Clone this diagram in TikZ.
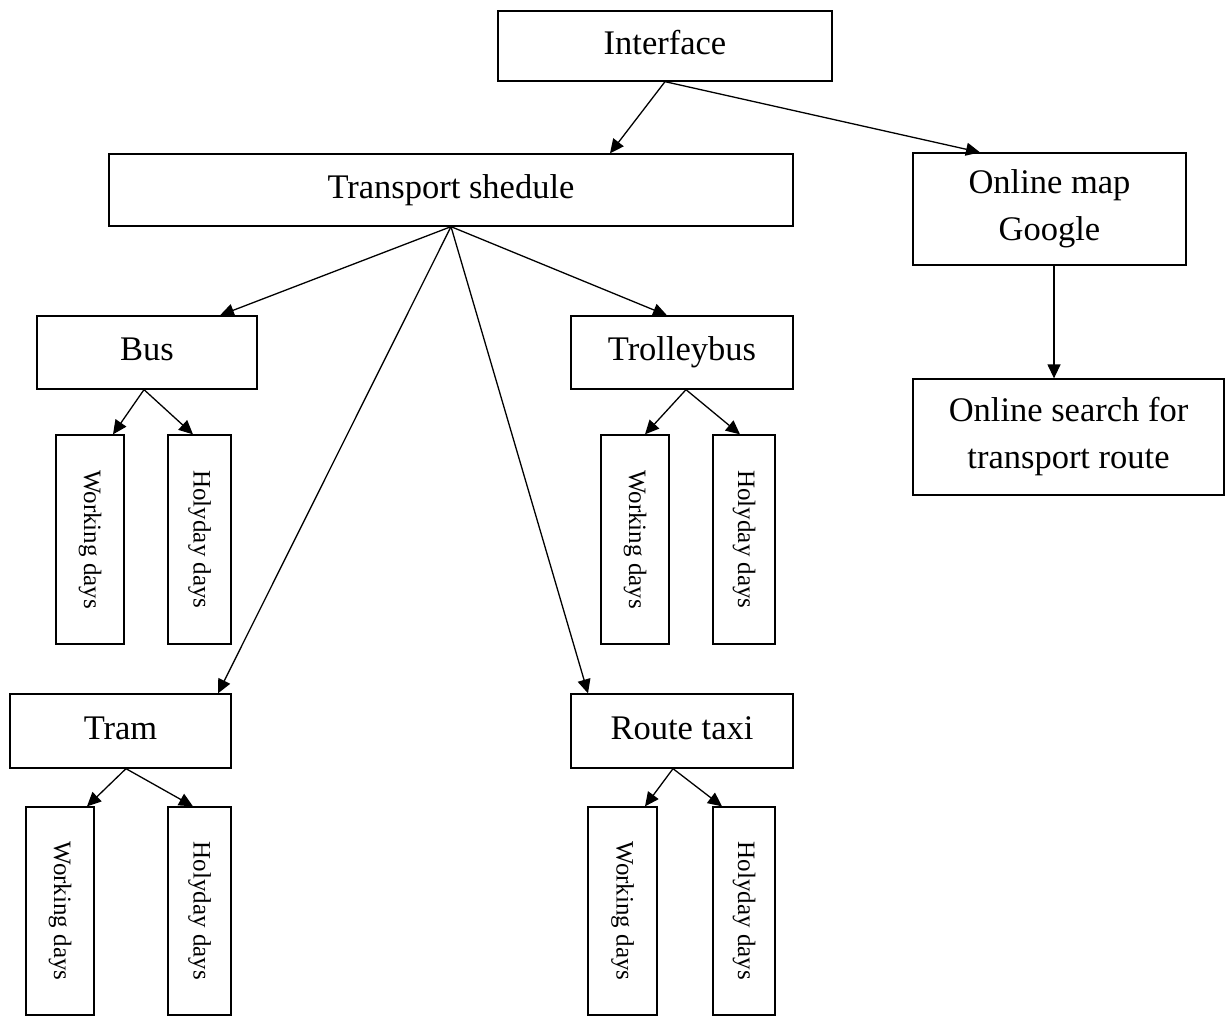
\documentclass[tikz,border=0pt]{standalone}
\usepackage{fontspec}
\setmainfont{Liberation Serif}
\usepackage{graphicx}
\usetikzlibrary{arrows.meta}
\begin{document}
\begin{tikzpicture}[x=1pt,y=-1pt,
  box/.style={draw,line width=1.3pt,inner sep=0pt,font=\fontsize{34.5pt}{47pt}\selectfont,align=center},
  one/.style={draw,line width=1.3pt,inner sep=0pt,font=\fontsize{34.5pt}{47pt}\selectfont,text height=26pt,text depth=9.5pt},
  vert/.style={draw,line width=1.3pt,inner sep=0pt,font=\fontsize{25pt}{30pt}\selectfont},
  arr/.style={line width=1.3pt,-{Triangle[length=14pt,width=13pt]}}]
\useasboundingbox (0,0) rectangle (1225,1017);
% top level
\node[one,minimum width=334pt,minimum height=70pt] (iface) at (665,46) {Interface};
\node[one,minimum width=684pt,minimum height=72pt] (ts) at (451,190) {Transport shedule};
\node[box,minimum width=273pt,minimum height=112pt] (omap) at (1049.5,209) {Online map\\Google};
\node[box,minimum width=311pt,minimum height=116pt] (osearch) at (1068.5,437) {Online search for\\transport route};
% second level
\node[one,minimum width=220pt,minimum height=73pt] (bus) at (147,352.5) {Bus};
\node[one,minimum width=222pt,minimum height=73pt] (trol) at (682,352.5) {Trolleybus};
\node[one,minimum width=221pt,minimum height=74pt] (tram) at (120.5,731) {Tram};
\node[one,minimum width=222pt,minimum height=74pt] (rt) at (682,731) {Route taxi};
% day boxes
\node[vert,minimum width=68pt,minimum height=209pt] (bw) at (90,539.5) {\rotatebox{-90}{Working days}};
\node[vert,minimum width=63pt,minimum height=209pt] (bh) at (199.5,539.5) {\rotatebox{-90}{Holyday days}};
\node[vert,minimum width=68pt,minimum height=209pt] (tw) at (635,539.5) {\rotatebox{-90}{Working days}};
\node[vert,minimum width=62pt,minimum height=209pt] (th) at (744,539.5) {\rotatebox{-90}{Holyday days}};
\node[vert,minimum width=68pt,minimum height=208pt] (trw) at (60,911) {\rotatebox{-90}{Working days}};
\node[vert,minimum width=63pt,minimum height=208pt] (trh) at (199.5,911) {\rotatebox{-90}{Holyday days}};
\node[vert,minimum width=69pt,minimum height=208pt] (rtw) at (622.5,911) {\rotatebox{-90}{Working days}};
\node[vert,minimum width=62pt,minimum height=208pt] (rth) at (744,911) {\rotatebox{-90}{Holyday days}};
% connectors
\draw[arr] (iface.south) -- ([xshift=159pt]ts.north);
\draw[arr] (iface.south) -- ([xshift=-69.5pt]omap.north);
\draw[arr] ([xshift=4.5pt]omap.south) -- ([xshift=-14.5pt]osearch.north);
\draw[arr] (ts.south) -- ([xshift=73pt]bus.north);
\draw[arr] (ts.south) -- ([xshift=-15pt]trol.north);
\draw[arr] (ts.south) -- ([xshift=97.5pt]tram.north);
\draw[arr] (ts.south) -- ([xshift=-94pt]rt.north);
\draw[arr] ([xshift=-3pt]bus.south) -- ([xshift=23pt]bw.north);
\draw[arr] ([xshift=-3pt]bus.south) -- ([xshift=-6.5pt]bh.north);
\draw[arr] ([xshift=4pt]trol.south) -- ([xshift=10pt]tw.north);
\draw[arr] ([xshift=4pt]trol.south) -- ([xshift=-4pt]th.north);
\draw[arr] ([xshift=5.5pt]tram.south) -- ([xshift=27pt]trw.north);
\draw[arr] ([xshift=5.5pt]tram.south) -- ([xshift=-6.5pt]trh.north);
\draw[arr] ([xshift=-9pt]rt.south) -- ([xshift=22.5pt]rtw.north);
\draw[arr] ([xshift=-9pt]rt.south) -- ([xshift=-22pt]rth.north);
\end{tikzpicture}
\end{document}
